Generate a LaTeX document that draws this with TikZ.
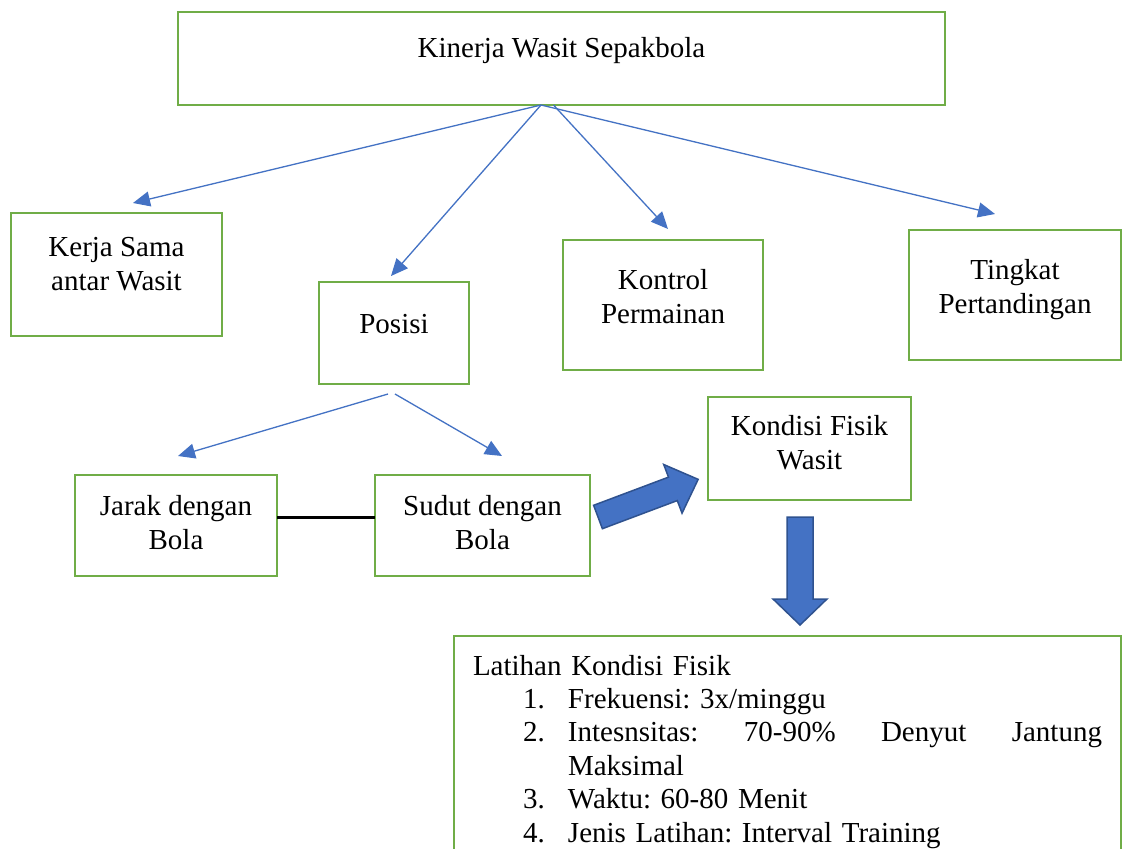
\documentclass[tikz,border=0pt]{standalone}
\usepackage{fontspec}
\setmainfont{Liberation Serif}
\usetikzlibrary{arrows.meta,positioning}
\definecolor{frame}{HTML}{70AD47}
\definecolor{link}{HTML}{4472C4}
\definecolor{edge}{HTML}{2F528F}
\newcommand{\padbox}[1]{\rule[-#1]{0pt}{#1}}
\frenchspacing

\begin{document}
\begin{tikzpicture}[x=1pt, y=-1pt,
  font=\fontsize{29}{34}\selectfont,
  box/.style={draw=frame, line width=2.5pt, outer sep=0pt, align=center, inner sep=0pt, text=black},
  arr/.style={-{Triangle[length=17pt,width=15pt]}, line width=1.3pt, link},
  fat/.style={fill=link, draw=edge, line width=1.5pt, line join=miter}
]
  \useasboundingbox (0,0) rectangle (1131,848);
  \fill[white] (0,0) rectangle (1131,848);
  \clip (0,0) rectangle (1131,848);
  \node[box, minimum width=767pt, minimum height=93pt] (kinerja) at (561.5,58.5) {Kinerja Wasit Sepakbola\padbox{22.8pt}};
  \node[box, minimum width=211pt, minimum height=123pt] (kerja) at (116.5,274.5) {Kerja Sama\\antar Wasit\padbox{20.8pt}};
  \node[box, minimum width=150pt, minimum height=102pt] (posisi) at (394,333) {Posisi\padbox{17.8pt}};
  \node[box, minimum width=200pt, minimum height=130pt] (kontrol) at (663,305) {Kontrol\\Permainan\padbox{17.8pt}};
  \node[box, minimum width=212pt, minimum height=130pt] (tingkat) at (1015,295) {Tingkat\\Pertandingan\padbox{17.8pt}};
  \node[box, minimum width=202pt, minimum height=101pt] (jarak) at (176,525.5) {Jarak dengan\\Bola\padbox{6.8pt}};
  \node[box, minimum width=215pt, minimum height=101pt] (sudut) at (482.5,525.5) {Sudut dengan\\Bola\padbox{6.8pt}};
  \node[box, minimum width=203pt, minimum height=103pt] (kondisi) at (809.5,448.5) {Kondisi Fisik\\Wasit\padbox{12.8pt}};
  \node[box, anchor=north west, text width=629pt, inner xsep=19pt, inner ysep=19pt, align=left,
    font=\fontsize{29}{33.4}\selectfont] (latihan) at (454,636) {Latihan Kondisi Fisik\par
    \hspace*{50pt}\makebox[45pt][l]{1.}Frekuensi: 3x/minggu\par
    \hspace*{50pt}\makebox[45pt][l]{2.}\makebox[534pt][s]{Intesnsitas:\hfill 70-90\%\hfill Denyut\hfill Jantung}\par
    \hspace*{95pt}Maksimal\par
    \hspace*{50pt}\makebox[45pt][l]{3.}Waktu: 60-80 Menit\par
    \hspace*{50pt}\makebox[45pt][l]{4.}Jenis Latihan: Interval Training};
  \draw[arr] ([xshift=-20.5pt]kinerja.south) -- ([xshift=16.5pt,yshift=10pt]kerja.north);
  \draw[arr] ([xshift=-20.5pt]kinerja.south) -- ([xshift=-3pt,yshift=6pt]posisi.north);
  \draw[arr] ([xshift=-8pt]kinerja.south) -- ([xshift=5pt,yshift=11pt]kontrol.north);
  \draw[arr] ([xshift=-20.5pt]kinerja.south) -- ([xshift=-20pt,yshift=16pt]tingkat.north);
  \draw[arr] ([xshift=-6pt,yshift=-10pt]posisi.south) -- ([xshift=2pt,yshift=19pt]jarak.north);
  \draw[arr] ([xshift=1pt,yshift=-10pt]posisi.south) -- ([xshift=19.5pt,yshift=19pt]sudut.north);
  \draw[line width=3pt] ([yshift=8.5pt]jarak.east) -- ([yshift=8.5pt]sudut.west);
  \draw[fat, shift={(598,517)}, rotate=20.6] (0,-12.5) -- (80,-12.5) -- (80,-26) -- (107,0) -- (80,26) -- (80,12.5) -- (0,12.5) -- cycle;
  \draw[fat] (787,517) -- (813,517) -- (813,599) -- (827,599) -- (800,625) -- (773,599) -- (787,599) -- cycle;
\end{tikzpicture}
\end{document}
